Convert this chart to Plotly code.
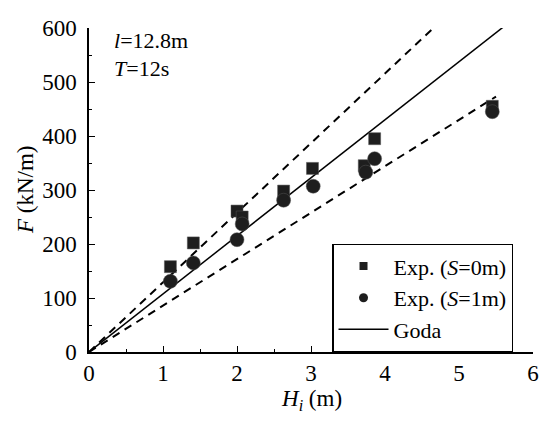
import plotly.graph_objects as go

# Experimental data, S = 0 m (squares)
h_s0 = [1.10, 1.41, 2.00, 2.07, 2.63, 3.02, 3.72, 3.86, 5.45]
f_s0 = [158, 202, 261, 250, 298, 340, 345, 395, 455]

# Experimental data, S = 1 m (circles)
h_s1 = [1.10, 1.41, 2.00, 2.07, 2.63, 3.03, 3.74, 3.86, 5.45]
f_s1 = [131, 165, 208, 237, 281, 307, 333, 358, 445]

# Goda line and +/- bands
goda_x = [0, 5.6]
goda_y = [0, 602]
upper_x = [0, 4.7]
upper_y = [0, 606]
lower_x = [0, 5.5]
lower_y = [0, 473]

FONT = "'Liberation Serif', 'Times New Roman', serif"
MK = "#1e1e1e"

fig = go.Figure()
fig.add_trace(go.Scatter(x=upper_x, y=upper_y, mode="lines",
                         line=dict(color="black", width=2, dash="8px,6px"),
                         showlegend=False, hoverinfo="skip"))
fig.add_trace(go.Scatter(x=lower_x, y=lower_y, mode="lines",
                         line=dict(color="black", width=2, dash="8px,6px"),
                         showlegend=False, hoverinfo="skip"))
fig.add_trace(go.Scatter(x=goda_x, y=goda_y, mode="lines",
                         line=dict(color="black", width=1.5),
                         showlegend=False))
fig.add_trace(go.Scatter(x=h_s0, y=f_s0, mode="markers",
                         marker=dict(symbol="square", size=12, color=MK,
                                     line=dict(color="#555", width=0.5)),
                         showlegend=False))
fig.add_trace(go.Scatter(x=h_s1, y=f_s1, mode="markers",
                         marker=dict(symbol="circle", size=14, color=MK,
                                     line=dict(color="#555", width=0.5)),
                         showlegend=False))

# legend entries
fig.add_trace(go.Scatter(x=[None], y=[None], mode="markers",
                         marker=dict(symbol="square", size=8, color=MK),
                         name="Exp. (<i>S</i>=0m)"))
fig.add_trace(go.Scatter(x=[None], y=[None], mode="markers",
                         marker=dict(symbol="circle", size=9, color=MK),
                         name="Exp. (<i>S</i>=1m)"))
fig.add_trace(go.Scatter(x=[None], y=[None], mode="lines",
                         line=dict(color="black", width=1.5),
                         name="Goda"))

axis_common = dict(
    showgrid=False, zeroline=False, showline=True, linecolor="black", linewidth=1.5,
    ticks="inside", ticklen=6, tickwidth=1.2, tickcolor="black",
    tickfont=dict(family=FONT, size=23, color="black"),
)

fig.update_xaxes(range=[0, 6], dtick=1, tick0=0,
                 minor=dict(ticks="inside", dtick=0.5, ticklen=3, tickcolor="black"),
                 **axis_common)
fig.update_yaxes(range=[0, 600], dtick=100, tick0=0,
                 minor=dict(ticks="inside", dtick=50, ticklen=3, tickcolor="black"),
                 ticklabelstandoff=6,
                 **axis_common)

# page body has an 8px default margin, so the figure is 8px smaller
fig.update_layout(
    width=539, height=420,
    margin=dict(l=81, r=8, t=14, b=76),
    paper_bgcolor="white", plot_bgcolor="white",
    font=dict(family=FONT, size=22, color="black"),
    legend=dict(x=0.548, y=0.333, xanchor="left", yanchor="top",
                bordercolor="black", borderwidth=1.2, bgcolor="white",
                font=dict(family=FONT, size=22, color="black"),
                itemwidth=50, tracegroupgap=0),
    annotations=[
        dict(text="<i>H</i><sub><i>i</i></sub> (m)", x=0.5, y=0, xref="paper", yref="paper",
             xanchor="center", yanchor="middle", yshift=-48, showarrow=False,
             font=dict(family=FONT, size=23, color="black")),
        dict(text="<i>F</i> (kN/m)", x=0, y=0.5, xref="paper", yref="paper",
             xanchor="center", yanchor="middle", xshift=-64, textangle=-90, showarrow=False,
             font=dict(family=FONT, size=23, color="black")),
        dict(text="<i>l</i>=12.8m", x=0.051, y=0.96, xref="paper", yref="paper",
             xanchor="left", yanchor="middle", showarrow=False,
             font=dict(family=FONT, size=22, color="black")),
        dict(text="<i>T</i>=12s", x=0.051, y=0.876, xref="paper", yref="paper",
             xanchor="left", yanchor="middle", showarrow=False,
             font=dict(family=FONT, size=22, color="black")),
    ],
)

fig.write_html("out.html")
